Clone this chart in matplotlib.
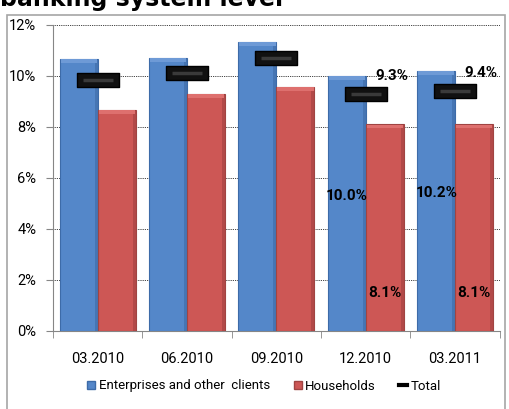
import matplotlib
matplotlib.use("Agg")
import matplotlib.pyplot as plt
import numpy as np
from matplotlib.path import Path
from matplotlib.patches import Rectangle
from matplotlib.lines import Line2D

# Non-performing loans by sector, banking system level
periods = ["03.2010", "06.2010", "09.2010", "12.2010", "03.2011"]
enterprises = [10.67, 10.7, 11.33, 10.0, 10.2]
households = [8.67, 9.3, 9.57, 8.1, 8.1]
total = [9.85, 10.1, 10.7, 9.3, 9.4]

blue = "#5487C9"
blue_top = "#6E9AD6"
blue_side = "#36619A"
red = "#CD5755"
red_top = "#DE706E"
red_side = "#93393A"

plt.rcParams['font.family'] = ['Roboto', 'DejaVu Sans']

fig = plt.figure(figsize=(5.1, 4.09), dpi=100)
ax = fig.add_axes([0.104, 0.191, 0.876, 0.748])

# chart area frame
fig.patches.append(Rectangle((7 / 510, -0.01), 498 / 510, 1 - 15 / 409 + 0.01,
                             transform=fig.transFigure, fill=False,
                             edgecolor="#A6A6A6", linewidth=1.2))

# heading, cut off by the top edge
fig.text(0.0, 1 - 6 / 409, "banking system level", fontsize=17,
         fontweight="bold", family="DejaVu Sans", ha="left", va="baseline")

x = np.arange(len(periods))
w = 0.425
b1 = ax.bar(x - w / 2, enterprises, w, color=blue, edgecolor="#3D6BA8",
            linewidth=0.8, zorder=3)
b2 = ax.bar(x + w / 2, households, w, color=red, edgecolor="#A04442",
            linewidth=0.8, zorder=3)

# soft bevel on each bar: lighter top cap, darker right side
for bars, top_c, side_c in ((b1, blue_top, blue_side), (b2, red_top, red_side)):
    for r in bars:
        bx, bw, bh = r.get_x(), r.get_width(), r.get_height()
        ax.add_patch(Rectangle((bx + bw - 0.035, 0), 0.035, bh, facecolor=side_c,
                               edgecolor="none", alpha=0.45, zorder=3.1))
        ax.add_patch(Rectangle((bx + 0.01, bh - 0.16), bw - 0.02, 0.15,
                               facecolor=top_c, edgecolor="none", zorder=3.2))

# total shown as a flat black bar-shaped marker
dash = Path([(-1, -0.33), (1, -0.33), (1, 0.33), (-1, 0.33), (-1, -0.33)],
            [Path.MOVETO, Path.LINETO, Path.LINETO, Path.LINETO, Path.CLOSEPOLY])
ax.plot(x, total, linestyle="none", marker=dash, markersize=30,
        markerfacecolor="#111111", markeredgecolor="black",
        markeredgewidth=1.0, zorder=4)
ax.plot(x, total, linestyle="none", marker="_", markersize=22,
        markeredgecolor="#3A3A3A", markeredgewidth=2.5, zorder=5)

# value labels on the last two periods
for i in (3, 4):
    ax.text(x[i] - w / 2, enterprises[i] / 2 + 0.3, f"{enterprises[i]:.1f}%",
            ha="center", va="center", fontsize=11, fontweight="bold", zorder=6)
    ax.text(x[i] + w / 2, 1.5, f"{households[i]:.1f}%",
            ha="center", va="center", fontsize=11, fontweight="bold", zorder=6)
    ax.text(x[i] + 0.29, total[i] + 0.7, f"{total[i]:.1f}%",
            ha="center", va="center", fontsize=11, fontweight="bold", zorder=6)

ax.set_xlim(-0.5, len(periods) - 0.5)
ax.set_ylim(0, 12)
ax.set_yticks(np.arange(0, 13, 2))
ax.set_yticklabels([f"{v}%" for v in range(0, 13, 2)], fontsize=10.5)
ax.yaxis.grid(True, linestyle=(0, (1, 1.2)), color="black", linewidth=0.6, zorder=0)
ax.set_axisbelow(True)

ax.set_xticks(x)
ax.set_xticklabels(periods, fontsize=10.5)
ax.set_xticks(np.arange(-0.5, len(periods)), minor=True)
ax.tick_params(axis="x", which="major", length=0, pad=15)
ax.tick_params(axis="x", which="minor", length=5, color="#868686")
ax.tick_params(axis="y", length=5, color="#868686", pad=7)

for s in ("top", "right"):
    ax.spines[s].set_visible(False)
ax.spines["left"].set_color("#868686")
ax.spines["bottom"].set_color("#868686")

handles = [
    Rectangle((0, 0), 1, 1, facecolor=blue, edgecolor="#3D6BA8"),
    Rectangle((0, 0), 1, 1, facecolor=red, edgecolor="#A04442"),
    Line2D([], [], color="black", linewidth=3),
]
fig.legend(handles, ["Enterprises and other  clients", "Households", "Total"],
           loc="center", bbox_to_anchor=(0.518, 1 - 386 / 409), ncol=3,
           frameon=False, fontsize=9.5, handlelength=0.6, handleheight=0.6,
           handletextpad=0.25, columnspacing=1.8)

fig.savefig("out.png", dpi=100)
